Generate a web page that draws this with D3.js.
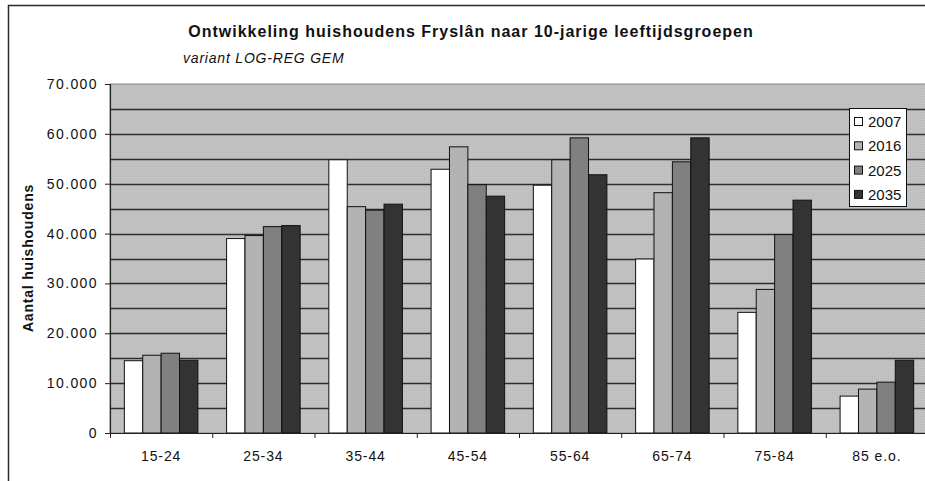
<!DOCTYPE html>
<html>
<head>
<meta charset="utf-8">
<script src="https://cdn.jsdelivr.net/npm/d3@7"></script>
<style>
  html, body { margin: 0; padding: 0; background: #fff; }
  svg { display: block; font-family: "Liberation Sans", Arial, sans-serif; }
</style>
</head>
<body>
<svg id="chart" width="925" height="481"></svg>
<script>
// Age groups on the x axis
const categories = ["15-24", "25-34", "35-44", "45-54", "55-64", "65-74", "75-84", "85 e.o."];
// Number of households per year (series)
const years = ["2007", "2016", "2025", "2035"];
const values2007 = [14500, 39000, 54800, 52900, 49700, 34900, 24200, 7400];
const values2016 = [15600, 39600, 45400, 57400, 54800, 48200, 28800, 8800];
const values2025 = [16000, 41400, 44700, 49800, 59200, 54400, 39800, 10200];
const values2035 = [14600, 41600, 45900, 47500, 51800, 59200, 46700, 14600];
const seriesValues = [values2007, values2016, values2025, values2035];
const yTicks = [0, 10000, 20000, 30000, 40000, 50000, 60000, 70000];
const gridValues = d3.range(0, 70001, 5000);
const colors = ["#ffffff", "#b3b3b3", "#808080", "#333333"];

const svg = d3.select("#chart");
const plotLeft = 110, plotTop = 84, plotBottom = 433, plotRight = 928;

// Outer chart frame
svg.append("path")
  .attr("d", `M8.5,481 V5.5 H925`)
  .attr("fill", "none").attr("stroke", "#2a2a2a").attr("stroke-width", 1.5);

const x = d3.scaleBand().domain(categories).range([plotLeft, plotRight]).paddingInner(0).paddingOuter(0);
const xInner = d3.scaleBand().domain(years).range([0, x.bandwidth()]).paddingInner(0).paddingOuter(0.78);
const y = d3.scaleLinear().domain([0, 70000]).range([plotBottom, plotTop]);

// Dotted grey plot background
const defs = svg.append("defs");
const pat = defs.append("pattern").attr("id", "dots").attr("width", 2).attr("height", 2)
  .attr("patternUnits", "userSpaceOnUse");
pat.append("rect").attr("width", 2).attr("height", 2).attr("fill", "#c3c3c3");
pat.append("rect").attr("width", 1).attr("height", 1).attr("fill", "#b8b8b8");

svg.append("rect")
  .attr("x", plotLeft).attr("y", plotTop).attr("width", plotRight - plotLeft).attr("height", plotBottom - plotTop)
  .attr("fill", "url(#dots)").attr("stroke", "#8a8a8a").attr("stroke-width", 1);

// Horizontal gridlines every 5.000
svg.append("g").selectAll("line")
  .data(gridValues.filter(v => v > 0 && v < 70000))
  .join("line")
  .attr("x1", plotLeft).attr("x2", plotRight)
  .attr("y1", d => Math.round(y(d)) + 0.5).attr("y2", d => Math.round(y(d)) + 0.5)
  .attr("stroke", "#2e2e2e").attr("stroke-width", 1.3);

// Bars
const groups = svg.append("g").selectAll("g")
  .data(categories)
  .join("g")
  .attr("transform", d => `translate(${x(d)},0)`);

groups.selectAll("rect")
  .data((c, i) => years.map((yr, s) => ({ yr, s, v: seriesValues[s][i] })))
  .join("rect")
  .attr("x", d => xInner(d.yr))
  .attr("width", xInner.bandwidth())
  .attr("y", d => y(d.v))
  .attr("height", d => y(0) - y(d.v))
  .attr("fill", d => colors[d.s])
  .attr("stroke", "#111").attr("stroke-width", 1);

// Y axis
const yAxis = d3.axisLeft(y).tickValues(yTicks).tickSize(5).tickPadding(7)
  .tickFormat(d => d === 0 ? "0" : d3.format(",")(d).replace(/,/g, "."));
const gy = svg.append("g").attr("transform", `translate(${plotLeft},0)`).call(yAxis);
gy.select(".domain").attr("stroke", "#222").attr("stroke-width", 1.2);
gy.selectAll(".tick line").attr("stroke", "#222");
gy.selectAll("text").attr("font-size", 14).attr("fill", "#111").attr("letter-spacing", 1.4);

// X axis
const xAxis = d3.axisBottom(x).tickSize(0).tickPadding(18);
const gx = svg.append("g").attr("transform", `translate(0,${plotBottom})`).call(xAxis);
gx.select(".domain").attr("stroke", "#222").attr("stroke-width", 1.2);
gx.selectAll("text").attr("font-size", 14).attr("fill", "#111").attr("letter-spacing", 0.9);
// Category boundary ticks
gx.append("g").selectAll("line")
  .data(categories)
  .join("line")
  .attr("x1", d => x(d) + 0.5).attr("x2", d => x(d) + 0.5)
  .attr("y1", 0).attr("y2", 5)
  .attr("stroke", "#222");

// Titles
svg.append("text")
  .attr("x", 471).attr("y", 37)
  .attr("text-anchor", "middle")
  .attr("font-size", 16).attr("font-weight", "bold").attr("fill", "#111")
  .attr("letter-spacing", 1)
  .text("Ontwikkeling huishoudens Fryslân naar 10-jarige leeftijdsgroepen");
svg.append("text")
  .attr("x", 183).attr("y", 63)
  .attr("font-size", 14).attr("font-style", "italic").attr("fill", "#111")
  .attr("letter-spacing", 0.8)
  .text("variant LOG-REG GEM");

svg.append("text")
  .attr("transform", `translate(33,258) rotate(-90)`)
  .attr("text-anchor", "middle")
  .attr("font-size", 14).attr("font-weight", "bold").attr("fill", "#111")
  .attr("letter-spacing", 0.8)
  .text("Aantal huishoudens");

// Legend
const lg = svg.append("g").attr("transform", "translate(849,108)");
lg.append("rect").attr("x", 0.5).attr("y", 0.5).attr("width", 57).attr("height", 98)
  .attr("fill", "#fff").attr("stroke", "#111").attr("stroke-width", 1);
const items = lg.selectAll("g.item").data(years).join("g")
  .attr("class", "item")
  .attr("transform", (d, i) => `translate(5,${14 + i * 24.3})`);
items.append("rect").attr("x", 0.5).attr("y", -4.5).attr("width", 8).attr("height", 8)
  .attr("fill", (d, i) => colors[i]).attr("stroke", "#111");
items.append("text").attr("x", 14).attr("y", 5)
  .attr("font-size", 15).attr("fill", "#111")
  .text(d => d);
</script>
</body>
</html>
